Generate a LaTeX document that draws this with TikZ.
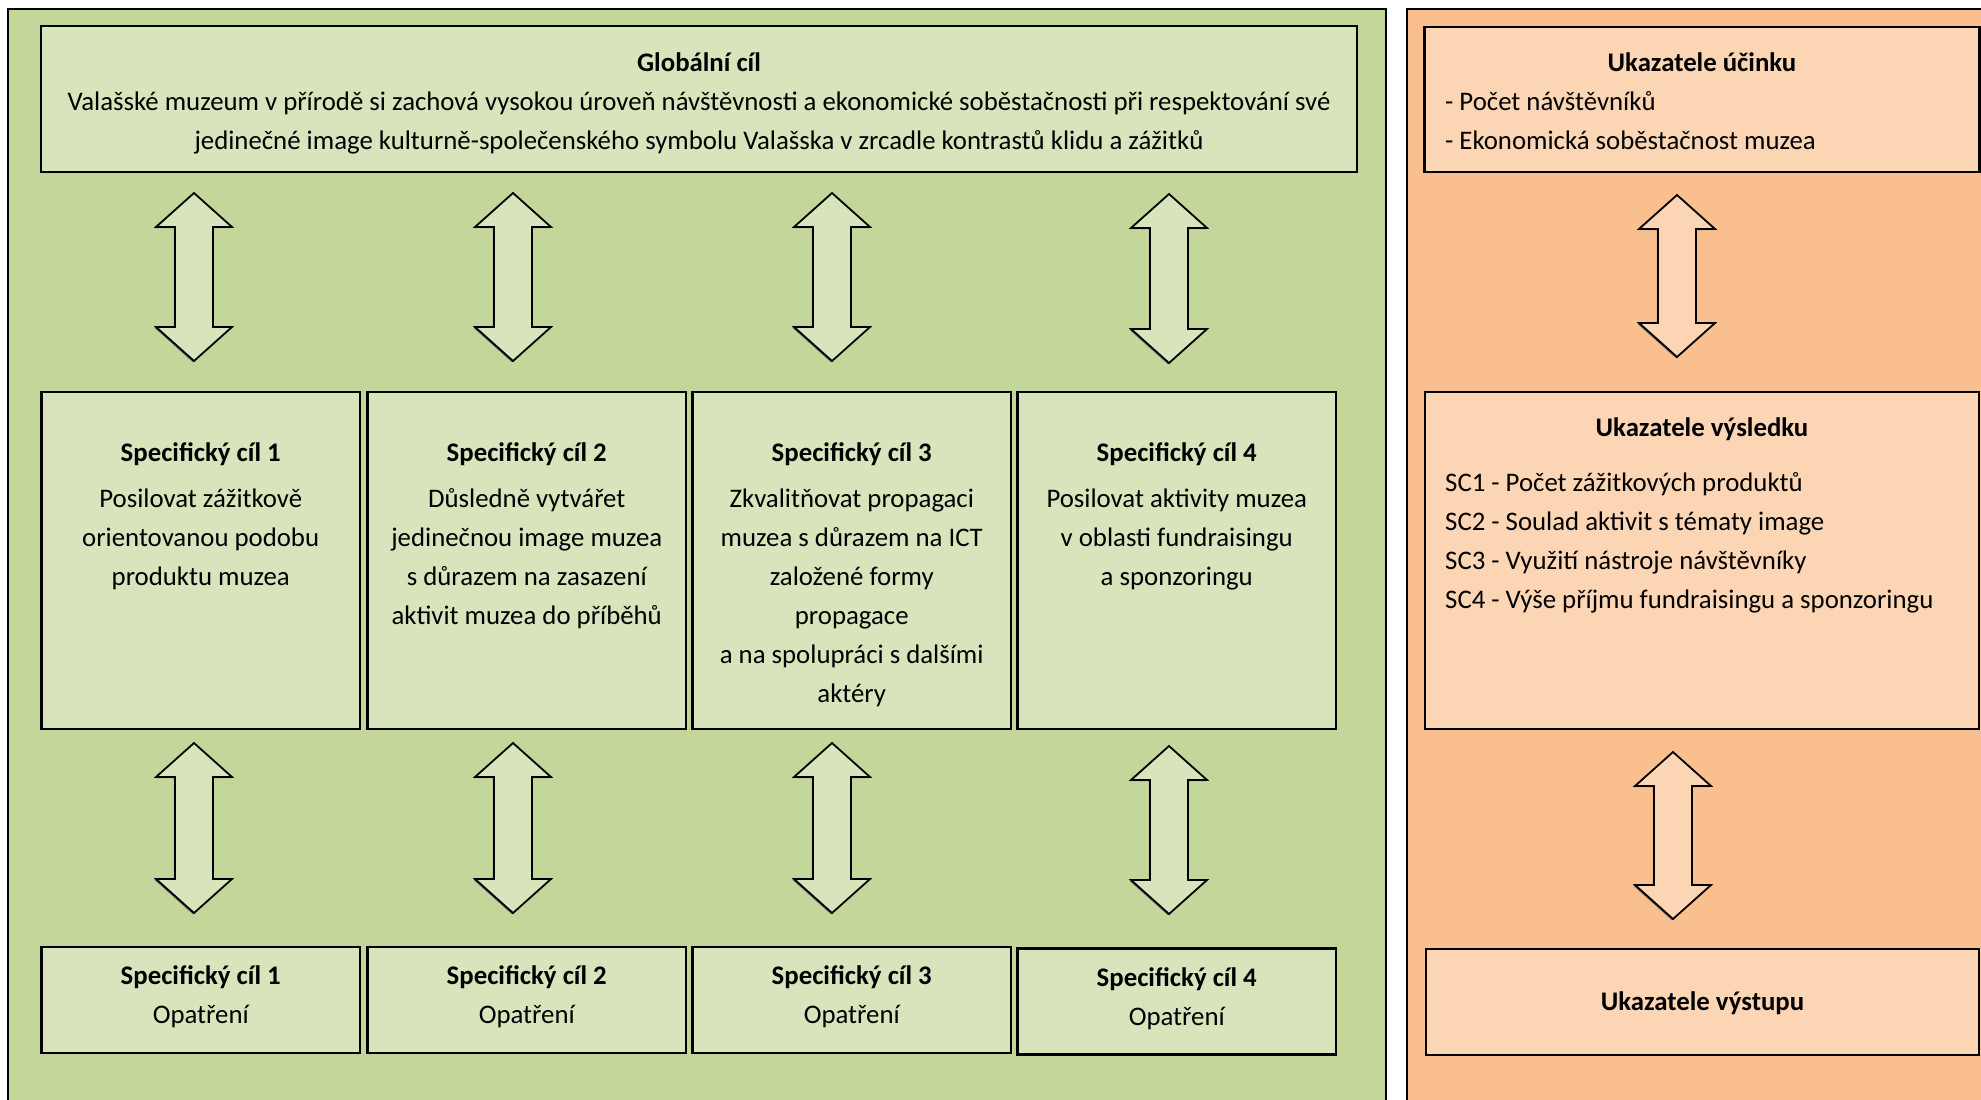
\documentclass[tikz,border=0pt]{standalone}
\usepackage{fontspec}
\setmainfont{Carlito}
\definecolor{gpanel}{HTML}{C4D79B}
\definecolor{gbox}{HTML}{D8E4BC}
\definecolor{opanel}{HTML}{FABF8F}
\definecolor{obox}{HTML}{FCD5B4}
\newcommand\blockarrow[4]{%
  \fill[black!55,xshift=-1.2pt,yshift=-1.2pt] (#1,#2) -- (#1+38,#2+34) -- (#1+19,#2+34) -- (#1+19,#3-34) -- (#1+38,#3-34) -- (#1,#3) -- (#1-38,#3-34) -- (#1-19,#3-34) -- (#1-19,#2+34) -- (#1-38,#2+34) -- cycle;
  \draw[line width=1.8pt,fill=#4,line join=miter] (#1,#2) -- (#1+38,#2+34) -- (#1+19,#2+34) -- (#1+19,#3-34) -- (#1+38,#3-34) -- (#1,#3) -- (#1-38,#3-34) -- (#1-19,#3-34) -- (#1-19,#2+34) -- (#1-38,#2+34) -- cycle;}
\begin{document}
\begin{tikzpicture}[x=1pt,y=-1pt,
  box/.style={draw=black,line width=2.2pt,inner sep=0pt},
  gb/.style={box,fill=gbox},
  ob/.style={box,fill=obox},
  txt/.style={inner sep=0pt,align=center,font=\fontsize{26.8}{39}\selectfont},
  ltxt/.style={inner sep=0pt,align=left,font=\fontsize{26.8}{39}\selectfont}]
\useasboundingbox (0,0) rectangle (1981,1100);
% panels
\fill[gpanel] (8,9) rectangle (1386,1110);
\draw[line width=2.4pt] (8,1110) -- (8,9) -- (1386,9) -- (1386,1110);
\fill[opanel] (1407,9) rectangle (1995,1110);
\draw[line width=2.4pt] (1407,1110) -- (1407,9) -- (1995,9);
% global goal (anchor base = baseline of last line)
\node[gb,minimum width=1316pt,minimum height=146pt] (g) at (699,99) {};
\node[txt,anchor=base] (gt) at (699,149.5) {\textbf{Globální cíl}\\
Valašské muzeum v přírodě si zachová vysokou úroveň návštěvnosti a ekonomické soběstačnosti při respektování své\\
jedinečné image kulturně-společenského symbolu Valašska v zrcadle kontrastů klidu a zážitků};
% specific goals
\node[gb,minimum width=318.5pt,minimum height=337pt] (s1) at (200.75,560.5) {};
\node[gb,minimum width=318.5pt,minimum height=337pt] (s2) at (526.75,560.5) {};
\node[gb,minimum width=318.5pt,minimum height=337pt] (s3) at (851.75,560.5) {};
\node[gb,minimum width=318.5pt,minimum height=337pt] (s4) at (1176.75,560.5) {};
\node[txt,anchor=base] (s1t) at (200.75,585.5) {\textbf{Specifický cíl 1}\\[7pt]
Posilovat zážitkově\\orientovanou podobu\\produktu muzea};
\node[txt,anchor=base] (s2t) at (526.75,624.5) {\textbf{Specifický cíl 2}\\[7pt]
Důsledně vytvářet\\jedinečnou image muzea\\s důrazem na zasazení\\aktivit muzea do příběhů};
\node[txt,anchor=base] (s3t) at (851.75,702.5) {\textbf{Specifický cíl 3}\\[7pt]
Zkvalitňovat propagaci\\muzea s důrazem na ICT\\založené formy\\propagace\\a na spolupráci s dalšími\\aktéry};
\node[txt,anchor=base] (s4t) at (1176.75,585.5) {\textbf{Specifický cíl 4}\\[7pt]
Posilovat aktivity muzea\\v oblasti fundraisingu\\a sponzoringu};
% measures
\node[gb,minimum width=318.5pt,minimum height=106pt] (m1) at (200.75,1000) {};
\node[gb,minimum width=318.5pt,minimum height=106pt] (m2) at (526.75,1000) {};
\node[gb,minimum width=318.5pt,minimum height=106pt] (m3) at (851.75,1000) {};
\node[gb,minimum width=318.5pt,minimum height=106pt] (m4) at (1176.75,1001.5) {};
\node[txt,anchor=base] (m1t) at (200.75,1023) {\textbf{Specifický cíl 1}\\Opatření};
\node[txt,anchor=base] (m2t) at (526.75,1023) {\textbf{Specifický cíl 2}\\Opatření};
\node[txt,anchor=base] (m3t) at (851.75,1023) {\textbf{Specifický cíl 3}\\Opatření};
\node[txt,anchor=base] (m4t) at (1176.75,1025) {\textbf{Specifický cíl 4}\\Opatření};
% indicators
\node[ob,minimum width=555pt,minimum height=145pt] (u1) at (1702,99.5) {};
\node[txt,anchor=base] (u1h) at (1702,71.5) {\textbf{Ukazatele účinku}};
\node[ltxt,anchor=base west] (u1t) at (1445,149.5) {- Počet návštěvníků\\- Ekonomická soběstačnost muzea};
\node[ob,minimum width=554pt,minimum height=337pt] (u2) at (1702,560.5) {};
\node[txt,anchor=base] (u2h) at (1702,436.5) {\textbf{Ukazatele výsledku}};
\node[ltxt,anchor=base west] (u2t) at (1445,608.5) {SC1 - Počet zážitkových produktů\\SC2 - Soulad aktivit s tématy image\\SC3 - Využití nástroje návštěvníky\\SC4 - Výše příjmu fundraisingu a sponzoringu};
\node[ob,minimum width=553pt,minimum height=106pt] (u3) at (1702.5,1002) {};
\node[txt,anchor=base] (u3h) at (1702.5,1010) {\textbf{Ukazatele výstupu}};
% block arrows
\blockarrow{194}{193}{361}{gbox}
\blockarrow{513}{193}{361}{gbox}
\blockarrow{832}{193}{361}{gbox}
\blockarrow{1169}{194}{363}{gbox}
\blockarrow{194}{743}{913}{gbox}
\blockarrow{513}{743}{913}{gbox}
\blockarrow{832}{743}{913}{gbox}
\blockarrow{1169}{746}{914}{gbox}
\blockarrow{1677}{195}{357}{obox}
\blockarrow{1673}{752}{919}{obox}
\end{tikzpicture}
\end{document}
